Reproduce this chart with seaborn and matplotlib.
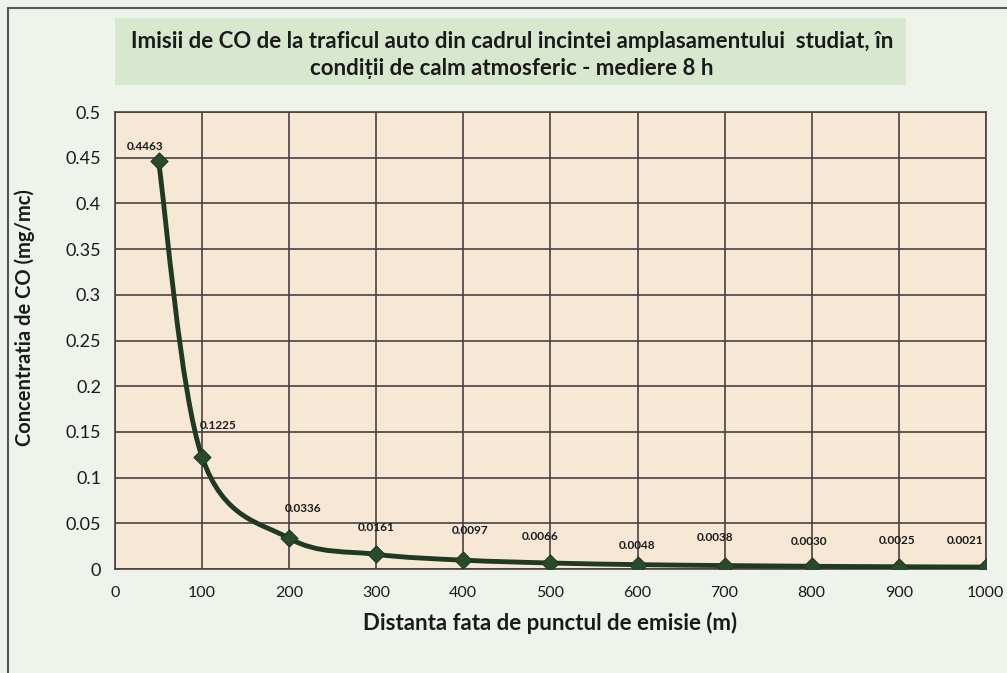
import matplotlib
matplotlib.use('Agg')
import matplotlib.pyplot as plt
import numpy as np
import pandas as pd
import seaborn as sns
from matplotlib.path import Path
from matplotlib.patches import PathPatch, Rectangle

# date
distante = [50, 100, 200, 300, 400, 500, 600, 700, 800, 900, 1000]
concentratii = [0.4463, 0.1225, 0.0336, 0.0161, 0.0097, 0.0066, 0.0048, 0.0038, 0.0030, 0.0025, 0.0021]
etichete = ['0.4463', '0.1225', '0.0336', '0.0161', '0.0097', '0.0066', '0.0048', '0.0038', '0.0030', '0.0025', '0.0021']
x_ticks = [0, 100, 200, 300, 400, 500, 600, 700, 800, 900, 1000]
y_ticks = [0, 0.05, 0.1, 0.15, 0.2, 0.25, 0.3, 0.35, 0.4, 0.45, 0.5]
y_ticklabels = ['0', '0.05', '0.1', '0.15', '0.2', '0.25', '0.3', '0.35', '0.4', '0.45', '0.5']

titlu = 'Imisii de CO de la traficul auto din cadrul incintei amplasamentului  studiat, în\ncondiții de calm atmosferic - mediere 8 h'

sns.set_style('white')
plt.rcParams['font.family'] = ['Lato', 'DejaVu Sans']

df = pd.DataFrame({'dist': distante, 'conc': concentratii})

fig = plt.figure(figsize=(10.07, 6.73), dpi=100)
fig.patch.set_facecolor('#eef3ec')
ax = fig.add_axes([0.1142, 0.1545, 0.8648, 0.679])
ax.set_facecolor('#f7e8d6')

# linie netezita (stil Excel) prin punctele de date
pts = df[['dist', 'conc']].values
verts = [tuple(pts[0])]
codes = [Path.MOVETO]
n = len(pts)
for i in range(n - 1):
    p0 = pts[i - 1] if i > 0 else pts[i]
    p1 = pts[i]
    p2 = pts[i + 1]
    p3 = pts[i + 2] if i + 2 < n else pts[i + 1]
    c1 = p1 + (p2 - p0) / 6.0
    c2 = p2 - (p3 - p1) / 6.0
    verts += [tuple(c1), tuple(c2), tuple(p2)]
    codes += [Path.CURVE4] * 3
ax.add_patch(PathPatch(Path(verts, codes), facecolor='none', edgecolor='#1f3a22', lw=3.5, zorder=3))

sns.scatterplot(data=df, x='dist', y='conc', marker='D', s=75, color='#2a4a2c',
                edgecolor='#1f3a22', linewidth=0.8, ax=ax, zorder=4)

# pozitii etichete (pixeli fata de punct)
offsets = [(-13, 15), (16, 32), (14, 30), (0, 27), (7, 30), (-10, 26), (0, 19), (-10, 28), (-3, 25), (-2, 26), (-21, 27)]
for xv, yv, lab, off in zip(distante, concentratii, etichete, offsets):
    ax.annotate(lab, (xv, yv), xytext=off, textcoords='offset pixels', ha='center', va='center',
                fontsize=8.5, fontweight='bold', color='#1a1a1a', zorder=5)

ax.set_xlim(0, 1000)
ax.set_ylim(0, 0.5)
ax.set_xticks(x_ticks)
ax.set_yticks(y_ticks)
ax.set_yticklabels(y_ticklabels)
ax.grid(True, color='#4a4040', lw=1.2)
ax.set_axisbelow(True)
for s in ax.spines.values():
    s.set_color('#4a4040')
    s.set_linewidth(1.2)
ax.tick_params(axis='x', labelsize=11.5, pad=12, length=0, colors='#1a1a1a')
ax.tick_params(axis='y', labelsize=13, pad=10, length=0, colors='#1a1a1a')
ax.set_xlabel('Distanta fata de punctul de emisie (m)', fontsize=16, fontweight='bold', labelpad=9, color='#1a1a1a')
ax.set_ylabel('Concentratia de CO (mg/mc)', fontsize=14.5, fontweight='bold', labelpad=8, color='#1a1a1a')
ax.yaxis.set_label_coords(-0.092, 0.55)

# caseta titlului
fig.patches.append(Rectangle((115 / 1007, 1 - 85 / 673), (906 - 115) / 1007, 67 / 673,
                             transform=fig.transFigure, facecolor='#d8e8cf', edgecolor='none', zorder=0))
fig.text(512 / 1007, 1 - 55 / 673, titlu, ha='center', va='center', fontsize=16, fontweight='bold',
         color='#1a1a1a', linespacing=1.4)

# chenar exterior
fig.patches.append(Rectangle((8 / 1007, -0.01), 1.0, 1 - 8 / 673 + 0.01, transform=fig.transFigure,
                             facecolor='none', edgecolor='#555555', lw=1.5))

plt.savefig('out.png', dpi=100, facecolor=fig.get_facecolor())
